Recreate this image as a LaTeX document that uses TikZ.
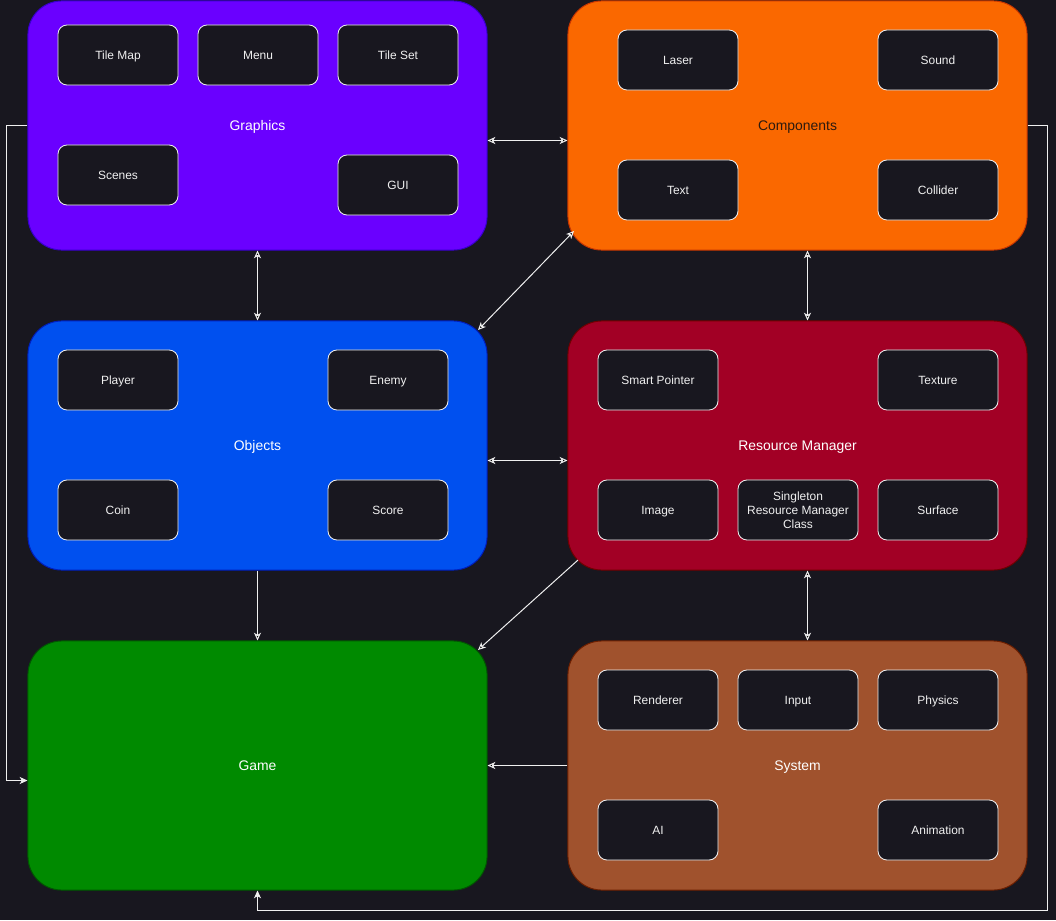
\documentclass[tikz,border=0pt]{standalone}
\usepackage{fontspec}
\setmainfont{Liberation Sans}
\usetikzlibrary{arrows.meta,calc}
\definecolor{bg}{HTML}{18171F}
\definecolor{itemline}{HTML}{F0F0F0}
\definecolor{itemtext}{HTML}{F0F0F0}
\definecolor{linkcol}{HTML}{F0F0F0}
\definecolor{grfill}{HTML}{6A00FF}\definecolor{grline}{HTML}{3700CC}
\definecolor{cofill}{HTML}{FA6800}\definecolor{coline}{HTML}{C73500}
\definecolor{obfill}{HTML}{0050EF}\definecolor{obline}{HTML}{001DBC}
\definecolor{rmfill}{HTML}{A20025}\definecolor{rmline}{HTML}{6F0000}
\definecolor{gafill}{HTML}{008A00}\definecolor{galine}{HTML}{005700}
\definecolor{syfill}{HTML}{A0522D}\definecolor{syline}{HTML}{6D1F00}
\definecolor{cotext}{HTML}{2B1A0F}

\begin{document}
\begin{tikzpicture}[x=0.025cm,y=-0.025cm,
	group/.style={rounded corners=24pt, minimum width=11.475cm, minimum height=6.225cm,
		inner sep=0pt, text=white, font=\fontsize{9.9}{12}\selectfont, line width=0.7pt,
		text height=7.1pt, text depth=0pt},
	item/.style={draw=itemline, fill=bg, rounded corners=6.4pt, minimum width=3cm,
		minimum height=1.5cm, inner sep=0pt, text=itemtext, align=center,
		font=\fontsize{8.5}{10}\selectfont, line width=0.6pt,
		text height=6.1pt, text depth=0pt},
	multi/.style={text height=, text depth=},
	link/.style={draw=linkcol, line width=0.7pt,
		>={Stealth[length=5.5pt,width=5pt,inset=1.5pt]}}
	]
			\fill[bg] (0,0) rectangle (1056,920);
			\useasboundingbox (0,0) rectangle (1056,920);
			%
			\node[group, fill=grfill, draw=grline] (GR) at (257.5,125.5) {Graphics};
			\node[group, fill=cofill, draw=coline, text=cotext] (CO) at (797.5,125.5) {Components};
			\node[group, fill=obfill, draw=obline] (OB) at (257.5,445.5) {Objects};
			\node[group, fill=rmfill, draw=rmline] (RM) at (797.5,445.5) {Resource Manager};
			\node[group, fill=gafill, draw=galine] (GA) at (257.5,765.5) {Game};
			\node[group, fill=syfill, draw=syline] (SY) at (797.5,765.5) {System};
			%
			\node[item] (TileMap) at (118,55) {Tile Map};
			\node[item] (Menu) at (258,55) {Menu};
			\node[item] (TileSet) at (398,55) {Tile Set};
			\node[item] (Scenes) at (118,175) {Scenes};
			\node[item] (GUI) at (398,185) {GUI};
			%
			\node[item] (Laser) at (678,60) {Laser};
			\node[item] (Sound) at (938,60) {Sound};
			\node[item] (Text) at (678,190) {Text};
			\node[item] (Collider) at (938,190) {Collider};
			%
			\node[item] (Player) at (118,380) {Player};
			\node[item] (Enemy) at (388,380) {Enemy};
			\node[item] (Coin) at (118,510) {Coin};
			\node[item] (Score) at (388,510) {Score};
			%
			\node[item] (SmartPtr) at (658,380) {Smart Pointer};
			\node[item] (Texture) at (938,380) {Texture};
			\node[item] (Image) at (658,510) {Image};
			\node[item, multi] (Singleton) at (798,510) {Singleton\\Resource Manager\\Class};
			\node[item] (Surface) at (938,510) {Surface};
			%
			\node[item] (Renderer) at (658,700) {Renderer};
			\node[item] (Input) at (798,700) {Input};
			\node[item] (Physics) at (938,700) {Physics};
			\node[item] (AI) at (658,830) {AI};
			\node[item] (Animation) at (938,830) {Animation};
			%
			\coordinate (COsw) at (574,231);
			\coordinate (OBne) at (478,330);
			\coordinate (RMsw) at (578,560);
			\coordinate (GAne) at (478,650);
			%
			\path[link]
				($(GR.east)+(0,15)$) edge[<->] ($(CO.west)+(0,15)$)
				(GR.south) edge[<->] (OB.north)
				(COsw) edge[<->] (OBne)
				($(CO.south)+(10,0)$) edge[<->] ($(RM.north)+(10,0)$)
				($(OB.east)+(0,15)$) edge[<->] ($(RM.west)+(0,15)$)
				(OB.south) edge[->] (GA.north)
				(RMsw) edge[->] (GAne)
				($(RM.south)+(10,0)$) edge[<->] ($(SY.north)+(10,0)$)
				(SY.west) edge[->] (GA.east);
			\draw[link,->] (GR.west) -- ++(-21,0) |- ($(GA.west)+(0,15)$);
			\draw[link,->] (CO.east) -- ++(20,0) -- ++(0,785) -| (GA.south);
		\end{tikzpicture}
\end{document}
